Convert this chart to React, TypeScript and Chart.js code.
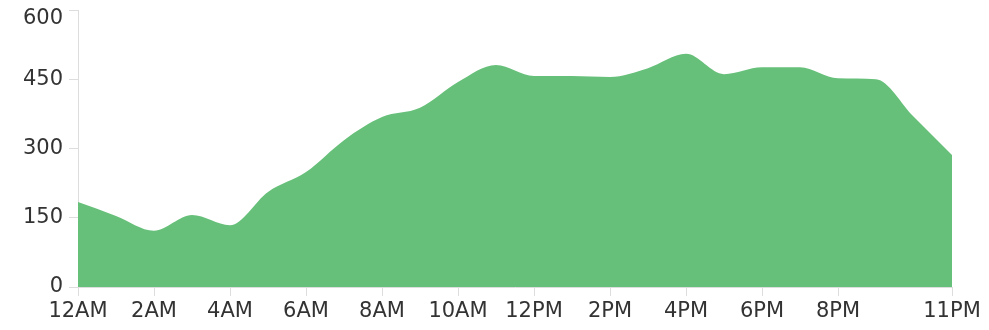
import React, { useEffect, useRef } from "react";
import { Chart, registerables } from "chart.js";

Chart.register(...registerables);

const hourLabels: string[] = [
  "12AM", "1AM", "2AM", "3AM", "4AM", "5AM", "6AM", "7AM", "8AM", "9AM", "10AM", "11AM",
  "12PM", "1PM", "2PM", "3PM", "4PM", "5PM", "6PM", "7PM", "8PM", "9PM", "10PM", "11PM",
];

const visitValues: number[] = [
  184, 154, 122, 156, 134, 206, 249, 318, 368, 388, 444, 481,
  457, 457, 455, 474, 505, 461, 476, 476, 452, 450, 368, 286,
];

const yTickMin = 0;
const yTickMax = 600;
const yTickStep = 150;

const FONT_FAMILY = "'DejaVu Sans', sans-serif";
const FONT_SIZE = 21;

const yLabelPlugin = {
  id: "yLabels",
  afterDraw(chart: any) {
    const ys = chart.scales.y;
    const ctx = chart.ctx;
    ctx.save();
    ctx.font = `${FONT_SIZE}px ${FONT_FAMILY}`;
    ctx.fillStyle = "#333333";
    ctx.textAlign = "right";
    ctx.textBaseline = "middle";
    for (const t of ys.ticks) {
      let y = ys.getPixelForValue(t.value);
      y = Math.max(y, 19);
      ctx.fillText(String(t.value), ys.right - 15, y);
    }
    ctx.restore();
  },
};

export default function App() {
  const canvasRef = useRef<HTMLCanvasElement | null>(null);

  useEffect(() => {
    document.body.style.margin = "0";
    const canvas = canvasRef.current;
    if (!canvas) return;
    const font = { family: FONT_FAMILY, size: FONT_SIZE };
    const chart = new Chart(canvas, {
      type: "line",
      data: {
        labels: hourLabels,
        datasets: [
          {
            data: visitValues,
            fill: "origin",
            backgroundColor: "rgb(103,192,122)",
            borderColor: "rgb(103,192,122)",
            borderWidth: 0,
            pointRadius: 0,
            cubicInterpolationMode: "monotone",
          },
        ],
      },
      options: {
        animation: false,
        responsive: false,
        maintainAspectRatio: false,
        layout: { padding: { left: 0, right: 37, top: 10, bottom: 0 } },
        plugins: { legend: { display: false }, tooltip: { enabled: false } },
        scales: {
          x: {
            offset: false,
            grid: {
              drawOnChartArea: false,
              drawTicks: true,
              tickLength: 9,
              color: "#dddddd",
            },
            border: { display: true, color: "#dddddd" },
            ticks: {
              autoSkip: false,
              maxRotation: 0,
              minRotation: 0,
              padding: 3,
              color: "#333333",
              font,
              callback: (_v: any, i: number) =>
                (i % 2 === 0 && i <= 20) || i === 23 ? hourLabels[i] : null,
            },
            afterFit: (s: any) => {
              s.height = 43;
            },
          },
          y: {
            min: yTickMin,
            max: yTickMax,
            grid: {
              drawOnChartArea: false,
              drawTicks: true,
              tickLength: 9,
              color: "#dddddd",
            },
            border: { display: true, color: "#dddddd" },
            ticks: {
              display: false,
              stepSize: yTickStep,
            },
            afterFit: (s: any) => {
              s.width = 78;
              s.paddingTop = 0;
              s.paddingBottom = 0;
            },
          },
        },
      },
      plugins: [yLabelPlugin],
    });
    return () => chart.destroy();
  }, []);

  return (
    <div style={{ width: 989, height: 330 }}>
      <canvas ref={canvasRef} width={989} height={330} style={{ display: "block" }} />
    </div>
  );
}
